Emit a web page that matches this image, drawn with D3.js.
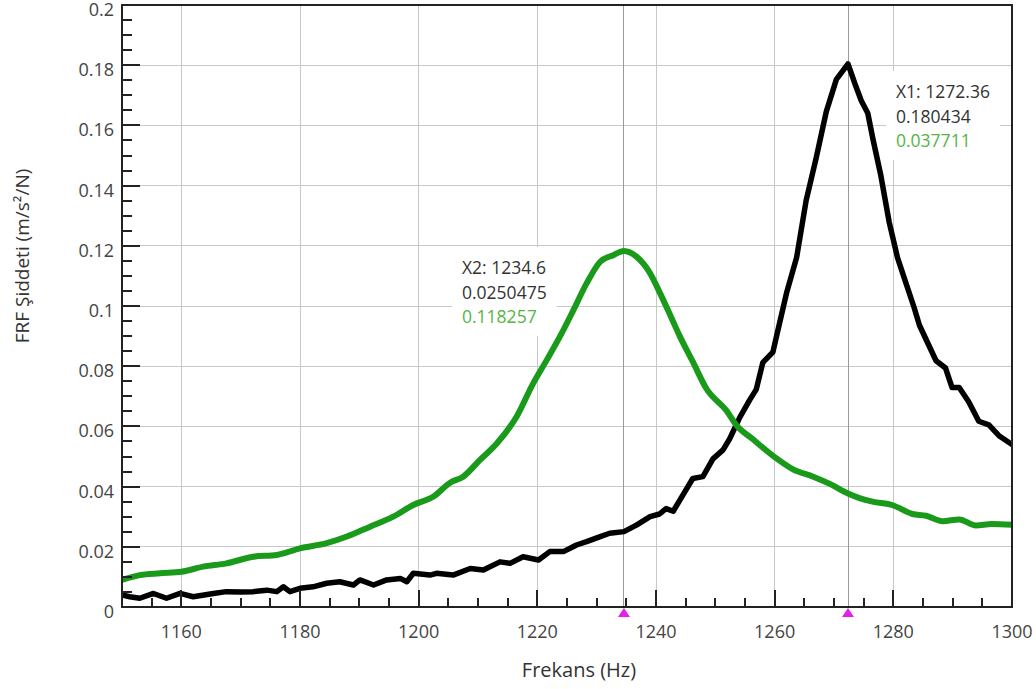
<!DOCTYPE html>
<html>
<head>
<meta charset="utf-8">
<script src="https://cdn.jsdelivr.net/npm/d3@7"></script>
<style>
  html, body { margin: 0; padding: 0; background: #fff; }
  svg { display: block; font-family: "Open Sans", "DejaVu Sans", sans-serif; }
</style>
</head>
<body>
<svg id="chart" width="1036" height="689"></svg>
<script>
// FRF magnitude of two measurements (black and green) over frequency
const blackFreq = [1150, 1151.3, 1153, 1155.3, 1157.5, 1159.8, 1162, 1165.4, 1167.6, 1170, 1172.1, 1174.4,
  1176.1, 1177.2, 1178.3, 1180, 1182.2, 1184.5, 1186.7, 1189, 1190.1, 1192.4, 1194.6, 1196.9, 1198, 1199.1,
  1201.9, 1203, 1205.8, 1208.7, 1210.9, 1213.7, 1215.4, 1217.6, 1220.2, 1222.1, 1224.4, 1226.6, 1228.3,
  1230.6, 1232.2, 1234.6, 1236.7, 1239, 1240.6, 1241.7, 1242.9, 1244.6, 1246.2, 1247.9, 1249.6, 1251.3,
  1252.4, 1254.1, 1255.8, 1256.9, 1258, 1259.7, 1260.6, 1262, 1263.7, 1265.3, 1267, 1268.7, 1270.4,
  1272.36, 1273.7, 1274.6, 1275.7, 1276.6, 1277.9, 1279.3, 1280.7, 1282.1, 1283.5, 1284.4, 1285.8,
  1287.2, 1288.8, 1289.9, 1291.1, 1292.7, 1294.4, 1296.1, 1297.8, 1300];
const blackAmp = [0.0040, 0.0034, 0.0029, 0.0045, 0.0029, 0.0045, 0.0034, 0.0045, 0.0051, 0.0050, 0.0051, 0.0056,
  0.0051, 0.0067, 0.0051, 0.0062, 0.0067, 0.0079, 0.0084, 0.0073, 0.0090, 0.0073, 0.0090, 0.0095, 0.0084, 0.0112,
  0.0106, 0.0112, 0.0106, 0.0128, 0.0123, 0.0150, 0.0145, 0.0167, 0.0156, 0.0184, 0.0184, 0.0206, 0.0217,
  0.0234, 0.0245, 0.0250475, 0.0272, 0.0300, 0.0309, 0.0327, 0.0318, 0.0374, 0.0427, 0.0433, 0.0492, 0.0522,
  0.0558, 0.0629, 0.0688, 0.0723, 0.0812, 0.0847, 0.0924, 0.1043, 0.1161, 0.1350, 0.1492, 0.1646, 0.1753,
  0.180434, 0.1729, 0.1682, 0.1640, 0.1551, 0.1433, 0.1279, 0.1161, 0.1078, 0.0995, 0.0936, 0.0877,
  0.0818, 0.0794, 0.0729, 0.0729, 0.0682, 0.0617, 0.0605, 0.0569, 0.0540];

const greenFreq = [1150, 1153, 1156.4, 1160, 1163.7, 1167.6, 1172.1, 1176.1, 1180, 1184.5, 1187.9, 1191.8,
  1195.7, 1199.1, 1202.5, 1205.3, 1207.5, 1210.3, 1213.2, 1216.5, 1219.3, 1221.6, 1223.8, 1226.1, 1228.3,
  1230.6, 1232.8, 1234.6, 1236.7, 1239, 1240.7, 1242.5, 1244, 1246.2, 1248.5, 1251.9, 1253.5, 1256.3, 1260,
  1263.1, 1266.5, 1269.3, 1272.36, 1274.3, 1276.5, 1279.9, 1283.2, 1285.5, 1288.3, 1291.1, 1293.9, 1296.6, 1300];
const greenAmp = [0.0090, 0.0106, 0.0112, 0.0117, 0.0134, 0.0145, 0.0167, 0.0173, 0.0195, 0.0212, 0.0234, 0.0267,
  0.0300, 0.0339, 0.0367, 0.0413, 0.0433, 0.0488, 0.0544, 0.0632, 0.0743, 0.0821, 0.0898, 0.0987, 0.1075,
  0.1147, 0.1169, 0.118257, 0.1164, 0.1109, 0.1042, 0.0965, 0.0900, 0.0815, 0.0725, 0.0652, 0.0605, 0.0558, 0.0498,
  0.0457, 0.0433, 0.0409, 0.037711, 0.0362, 0.0350, 0.0338, 0.0309, 0.0303, 0.0285, 0.0291, 0.0271, 0.0276, 0.0273];

// Cursor readouts
const markerNames = ["X2", "X1"];
const markerFreq = [1234.6, 1272.36];
const markerBlack = ["0.0250475", "0.180434"];
const markerGreen = ["0.118257", "0.037711"];

const xTickValues = [1160, 1180, 1200, 1220, 1240, 1260, 1280, 1300];
const yTickValues = [0, 0.02, 0.04, 0.06, 0.08, 0.1, 0.12, 0.14, 0.16, 0.18, 0.2];
const yTickLabels = ["0", "0.02", "0.04", "0.06", "0.08", "0.1", "0.12", "0.14", "0.16", "0.18", "0.2"];

const svg = d3.select("#chart");
const L = 122, R = 1012, T = 5, B = 607;
const x = d3.scaleLinear().domain([1150, 1300]).range([L, R]);
const y = d3.scaleLinear().domain([0, 0.2]).range([B, T]);

// grid
const grid = svg.append("g").attr("shape-rendering", "crispEdges");
grid.selectAll("line.gx").data(xTickValues.filter(d => d < 1300)).join("line")
  .attr("x1", d => x(d)).attr("x2", d => x(d)).attr("y1", T).attr("y2", B)
  .attr("stroke", "#c8c8c8").attr("stroke-width", 1);
grid.selectAll("line.gy").data(yTickValues.filter(d => d > 0 && d < 0.2)).join("line")
  .attr("x1", L).attr("x2", R).attr("y1", d => y(d)).attr("y2", d => y(d))
  .attr("stroke", "#c8c8c8").attr("stroke-width", 1);

// cursor lines
svg.append("g").attr("shape-rendering", "crispEdges")
  .selectAll("line").data(markerFreq).join("line")
  .attr("x1", d => x(d)).attr("x2", d => x(d)).attr("y1", T).attr("y2", B)
  .attr("stroke", "#9a9a9a").attr("stroke-width", 1);

// readout boxes with text
const readoutPos = [[462, 268], [896, 92]];
markerFreq.forEach((f, i) => {
  const g = svg.append("g");
  const rect = g.append("rect").attr("fill", "#fff");
  const t = g.append("text").attr("font-size", 17.5);
  const [tx, ty] = readoutPos[i];
  t.append("tspan").attr("x", tx).attr("y", ty + 6).attr("fill", "#333")
    .text(markerNames[i] + ": " + f);
  t.append("tspan").attr("x", tx).attr("y", ty + 31).attr("fill", "#333").text(markerBlack[i]);
  t.append("tspan").attr("x", tx).attr("y", ty + 55).attr("fill", "#55b444").text(markerGreen[i]);
  const bb = t.node().getBBox();
  rect.attr("x", bb.x - 10).attr("y", bb.y - 8).attr("width", bb.width + 20).attr("height", bb.height + 16);
});

// curves
svg.append("clipPath").attr("id", "plotClip")
  .append("rect").attr("x", L).attr("y", T).attr("width", R - L).attr("height", B - T);
const line = d3.line().x(d => x(d[0])).y(d => y(d[1]));
const smooth = d3.line().x(d => x(d[0])).y(d => y(d[1])).curve(d3.curveMonotoneX);
const curves = svg.append("g").attr("clip-path", "url(#plotClip)");
curves.append("path").datum(d3.zip(blackFreq, blackAmp))
  .attr("d", line).attr("fill", "none").attr("stroke", "#000")
  .attr("stroke-width", 5.5).attr("stroke-linejoin", "round").attr("stroke-linecap", "round");
curves.append("path").datum(d3.zip(greenFreq, greenAmp))
  .attr("d", smooth).attr("fill", "none").attr("stroke", "#1a9a1a")
  .attr("stroke-width", 6).attr("stroke-linejoin", "round").attr("stroke-linecap", "round");

// frame
svg.append("rect").attr("x", L).attr("y", T).attr("width", R - L).attr("height", B - T)
  .attr("fill", "none").attr("stroke", "#222").attr("stroke-width", 2);

// inward ticks
const ticks = svg.append("g").attr("stroke", "#222").attr("stroke-width", 2).attr("shape-rendering", "crispEdges");
const xMinor = d3.range(1155, 1300, 5);
ticks.selectAll("line.tx").data(xMinor).join("line")
  .attr("x1", d => x(d)).attr("x2", d => x(d))
  .attr("y1", B).attr("y2", d => B - (d % 20 === 0 ? 17 : 9));
const yMinor = d3.range(1, 40).map(i => i * 0.005);
ticks.selectAll("line.ty").data(yMinor).join("line")
  .attr("y1", d => y(d)).attr("y2", d => y(d))
  .attr("x1", L).attr("x2", (d, i) => L + ((i + 1) % 4 === 0 ? 18 : 10));

// tick labels
svg.append("g").selectAll("text").data(xTickValues).join("text")
  .attr("x", d => x(d)).attr("y", 638).attr("text-anchor", "middle")
  .attr("font-size", 18).attr("fill", "#444").text(d => d);
svg.append("g").selectAll("text").data(yTickValues).join("text")
  .attr("x", 114).attr("y", d => y(d) + 11).attr("text-anchor", "end")
  .attr("font-size", 18).attr("fill", "#444").text((d, i) => yTickLabels[i]);

// cursor flags on the frequency axis
svg.append("g").selectAll("path").data(markerFreq).join("path")
  .attr("d", d => `M${x(d)},${B + 1} L${x(d) + 6},${B + 10} L${x(d) - 6},${B + 10} Z`)
  .attr("fill", "#e61ee6");

// axis titles
svg.append("text").attr("x", 579).attr("y", 677).attr("text-anchor", "middle")
  .attr("font-size", 20).attr("fill", "#333").text("Frekans (Hz)");
svg.append("text").attr("transform", "translate(29,256) rotate(-90)").attr("text-anchor", "middle")
  .attr("font-size", 19).attr("fill", "#333").text("FRF Şiddeti (m/s²/N)");
</script>
</body>
</html>
